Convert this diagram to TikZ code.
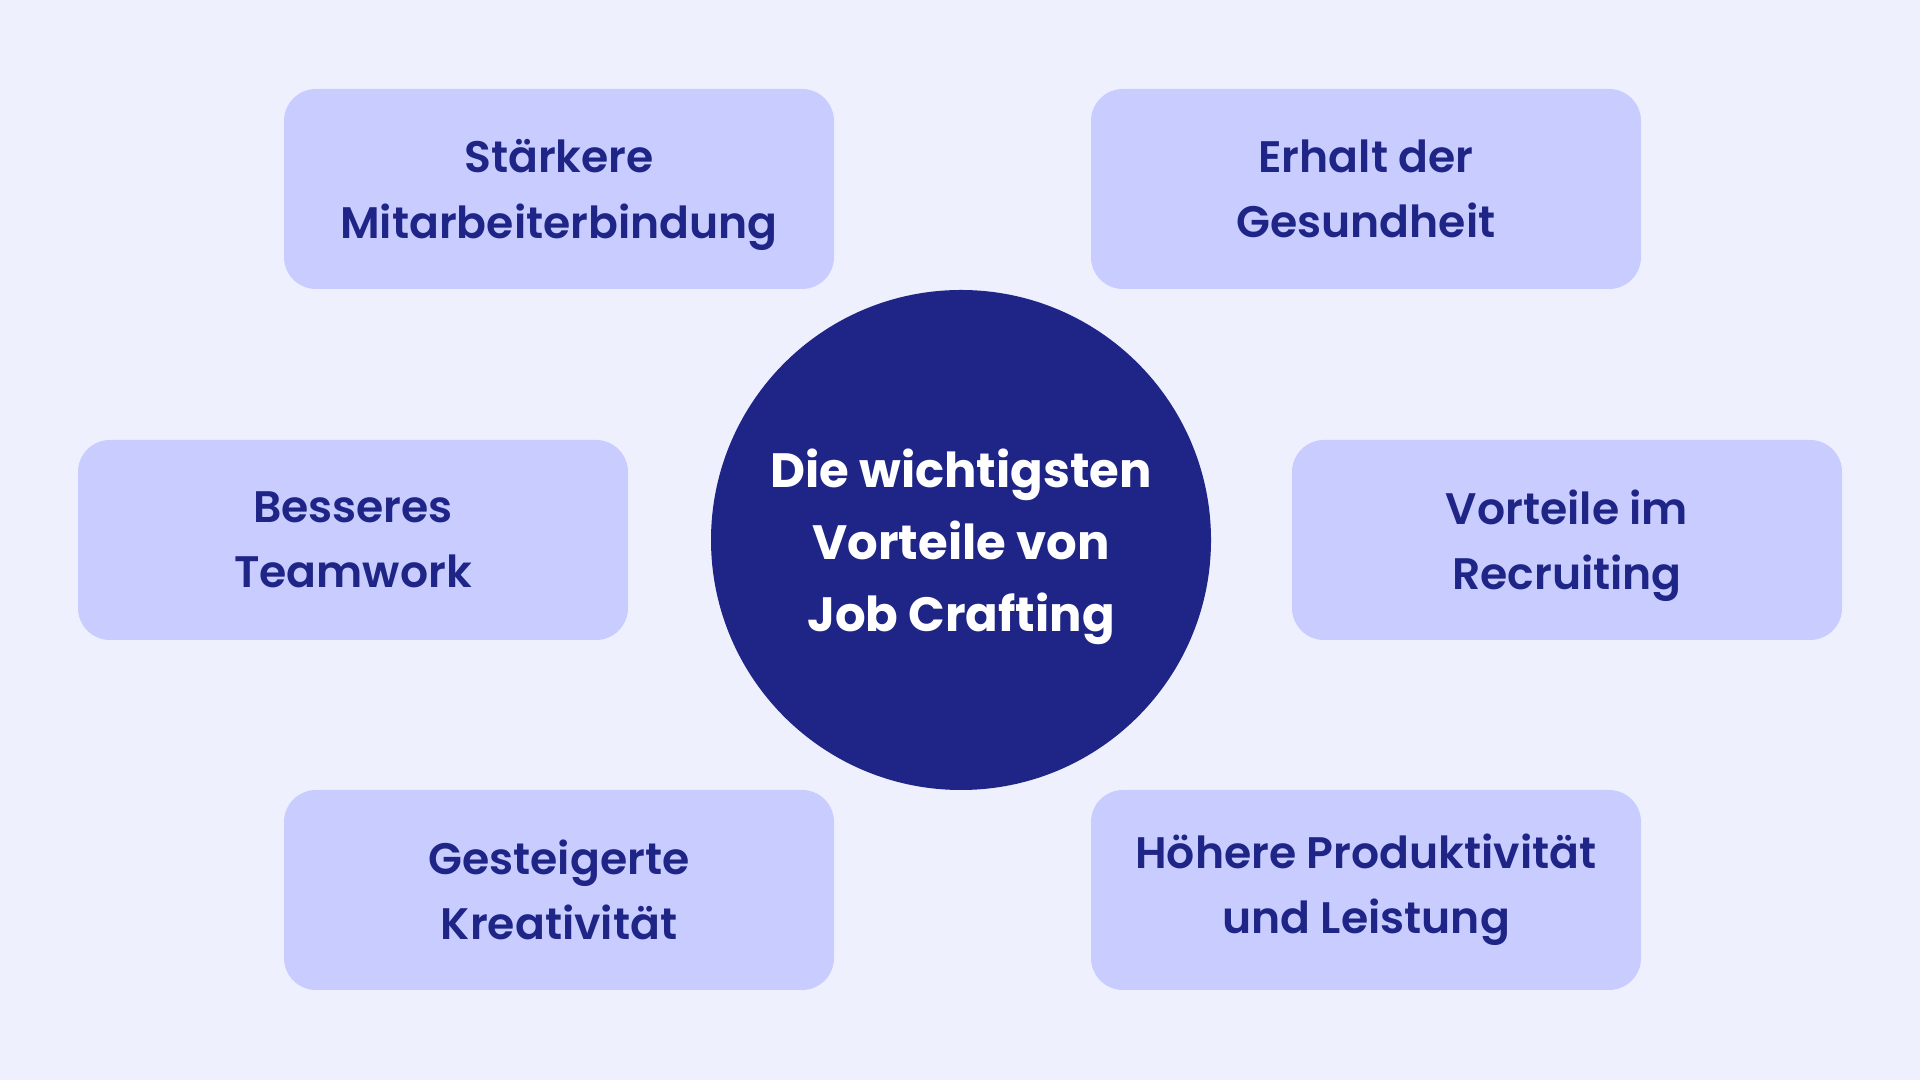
\documentclass[tikz,border=0pt]{standalone}
\usepackage{fontspec}
\setmainfont{Poppins}
\newfontfamily\benefitfont{Poppins SemiBold}
\usepackage{tikz}

\definecolor{pagebg}{HTML}{EEF0FE}
\definecolor{boxfill}{HTML}{C9CCFE}
\definecolor{navy}{HTML}{1E2586}

% last line whose descender should not count for centring
\newcommand{\flatline}[1]{\raisebox{0pt}[\height][0pt]{#1}}

\begin{document}
\begin{tikzpicture}[x=1cm, y=1cm,
			benefit/.style={rectangle, rounded corners=0.32cm, fill=boxfill,
				minimum width=5.5cm, minimum height=2cm, align=center,
				text=navy, font=\benefitfont\fontsize{12.55}{18.6}\selectfont},
			hub/.style={circle, fill=navy, minimum size=5cm, inner sep=0pt,
				align=center, text=white, font=\bfseries\fontsize{13.7}{20.5}\selectfont}]
			\fill[pagebg] (0,0) rectangle (19.2,10.8);
			\useasboundingbox (0,0) rectangle (19.2,10.8);

			\node[hub] (Hub) at (9.61,5.40) {Die wichtigsten\\Vorteile von\\\flatline{Job Crafting}};

			\node[benefit] (b1) at (5.59,8.91) {Stärkere\\\flatline{Mitarbeiterbindung}};
			\node[benefit] (b2) at (13.66,8.91) {Erhalt der\\Gesundheit};
			\node[benefit] (b3) at (3.53,5.40) {Besseres\\Teamwork};
			\node[benefit] (b4) at (15.67,5.40) {Vorteile im\\\flatline{Recruiting}};
			\node[benefit] (b5) at (5.59,1.90) {Gesteigerte\\Kreativität};
			\node[benefit] (b6) at (13.66,1.90) {Höhere Produktivität\\und Leistung};

		\end{tikzpicture}
\end{document}
